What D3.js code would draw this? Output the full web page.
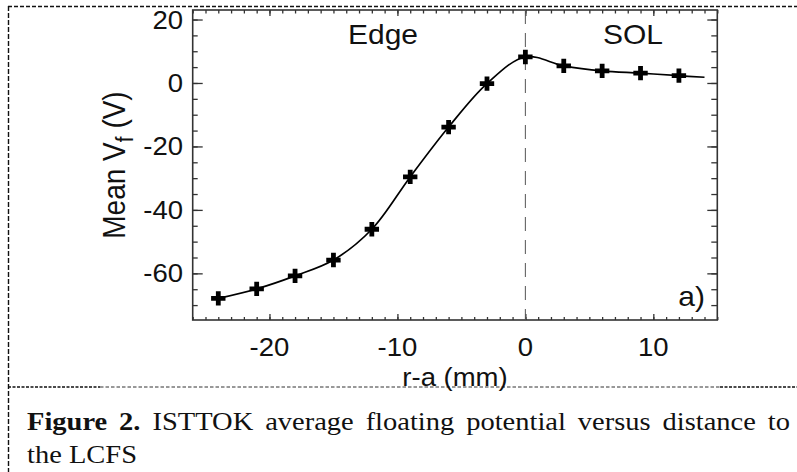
<!DOCTYPE html>
<html>
<head>
<meta charset="utf-8">
<script src="https://cdn.jsdelivr.net/npm/d3@7"></script>
<style>
  body { margin: 0; background: #fff; }
  svg { display: block; }
</style>
</head>
<body>
<svg id="chart" width="797" height="472"></svg>
<script>
// values
var rMinusA = [-24, -21, -18, -15, -12, -9, -6, -3, 0, 3, 6, 9, 12];
var meanVf = [-67.9, -64.9, -60.8, -55.8, -46.1, -29.6, -13.9, -0.2, 8.2, 5.4, 3.8, 3.1, 2.3];
// fitted curve runs a bit past the last probe point
var fitEndX = [14];
var fitEndY = [1.8];

var xTicks = [-20, -10, 0, 10];
var yTicks = [20, 0, -20, -40, -60];
var regionLabels = ['Edge', 'SOL'];
var captionBold = 'Figure 2.';
var captionLine1 = ' ISTTOK average floating potential versus distance to';
var captionLine2 = 'the LCFS';

var SANS = '"Liberation Sans", Arial, sans-serif';
var SERIF = '"Liberation Serif", "Times New Roman", serif';
var SX = 1.1; // the source image is a bit wider than tall

var svg = d3.select('#chart');
svg.append('rect').attr('width', 797).attr('height', 472).attr('fill', '#fff');

var plotL = 192.7, plotR = 717.3, plotT = 10, plotB = 320;
var x = d3.scaleLinear().domain([-26, 15]).range([plotL, plotR]);
var y = d3.scaleLinear().domain([-74.7, 23]).range([plotB, plotT]);

function stext(g, px, py, str, size, anchor, sx, family) {
  return g.append('text')
    .attr('transform', 'translate(' + px + ',' + py + ') scale(' + sx + ',1)')
    .attr('text-anchor', anchor)
    .style('font-family', family || SANS)
    .style('font-size', size + 'px')
    .attr('fill', '#111')
    .text(str);
}

// page frame, dashed
var frame = svg.append('g').attr('fill', 'none').attr('stroke', '#111');
frame.append('line').attr('x1', 8).attr('x2', 797).attr('y1', 6.5).attr('y2', 6.5)
  .attr('stroke-width', 1.4).attr('stroke-dasharray', '4,2');
frame.append('line').attr('x1', 8.5).attr('x2', 8.5).attr('y1', 6).attr('y2', 472)
  .attr('stroke-width', 1.4).attr('stroke-dasharray', '5,2');
frame.append('line').attr('x1', 8).attr('x2', 100).attr('y1', 387).attr('y2', 387)
  .attr('stroke-width', 1.4).attr('stroke-dasharray', '3,1.5');
frame.append('line').attr('x1', 100).attr('x2', 720).attr('y1', 387).attr('y2', 387)
  .attr('stroke-width', 1).attr('stroke', '#333').attr('stroke-dasharray', '3.5,2');
frame.append('line').attr('x1', 720).attr('x2', 797).attr('y1', 387).attr('y2', 387)
  .attr('stroke-width', 1.4).attr('stroke-dasharray', '3,1.5');

// axes: ticks point inward on all four sides
var axisColor = '#333';
function tickAxis(axis, tr) {
  var g = svg.append('g').attr('transform', tr).call(axis);
  g.select('.domain').remove();
  g.selectAll('line').attr('stroke', axisColor).attr('stroke-width', 1.3);
  g.selectAll('text').remove();
  return g;
}
var xMinor = d3.range(-26, 16, 1);
var yMinor = d3.range(-70, 21, 5);
tickAxis(d3.axisBottom(x).tickValues(xMinor).tickSize(-3), 'translate(0,' + plotB + ')');
tickAxis(d3.axisBottom(x).tickValues(xTicks).tickSize(-6), 'translate(0,' + plotB + ')');
tickAxis(d3.axisTop(x).tickValues(xMinor).tickSize(-3.5), 'translate(0,' + plotT + ')');
tickAxis(d3.axisTop(x).tickValues(xTicks).tickSize(-6), 'translate(0,' + plotT + ')');
tickAxis(d3.axisLeft(y).tickValues(yMinor).tickSize(-5), 'translate(' + plotL + ',0)');
tickAxis(d3.axisLeft(y).tickValues(yTicks).tickSize(-10), 'translate(' + plotL + ',0)');
tickAxis(d3.axisRight(y).tickValues(yMinor).tickSize(-6), 'translate(' + plotR + ',0)');
tickAxis(d3.axisRight(y).tickValues(yTicks).tickSize(-10), 'translate(' + plotR + ',0)');

svg.append('rect')
  .attr('x', plotL).attr('y', plotT).attr('width', plotR - plotL).attr('height', plotB - plotT)
  .attr('fill', 'none').attr('stroke', axisColor).attr('stroke-width', 1.6);

// tick labels
xTicks.forEach(function (t) {
  stext(svg, x(t), 356, String(t), 25, 'middle', SX);
});
yTicks.forEach(function (t) {
  stext(svg, 183, y(t) + 9, String(t), 25, 'end', SX);
});

// axis titles
stext(svg, (plotL + plotR) / 2, 386, 'r-a (mm)', 25, 'middle', SX);
var yl = svg.append('text')
  .attr('transform', 'translate(125,' + ((plotT + plotB) / 2) + ') rotate(-90) scale(1,1.14)')
  .attr('text-anchor', 'middle')
  .style('font-family', SANS).style('font-size', '28px').attr('fill', '#111');
yl.append('tspan').text('Mean V');
yl.append('tspan').attr('dy', 7).style('font-size', '21px').text('f');
yl.append('tspan').attr('dy', -7).text(' (V)');

// LCFS position
svg.append('line')
  .attr('x1', x(0)).attr('x2', x(0)).attr('y1', plotT).attr('y2', plotB)
  .attr('stroke', '#555').attr('stroke-width', 1).attr('stroke-dasharray', '14,9');

// fitted curve
var fitX = rMinusA.concat(fitEndX);
var fitY = meanVf.concat(fitEndY);
var line = d3.line()
  .x(function (d, i) { return x(fitX[i]); })
  .y(function (d, i) { return y(fitY[i]); })
  .curve(d3.curveCatmullRom.alpha(0.5));
svg.append('path').datum(fitX).attr('d', line)
  .attr('fill', 'none').attr('stroke', '#000').attr('stroke-width', 1.7);

// probe points
var cross = d3.symbol().type(d3.symbolCross).size(115);
svg.append('g').selectAll('path').data(rMinusA).join('path')
  .attr('transform', function (d, i) { return 'translate(' + x(d) + ',' + y(meanVf[i]) + ')'; })
  .attr('d', cross).attr('fill', '#000');

// region labels
stext(svg, 348, 43.5, regionLabels[0], 27, 'start', 1.11);
stext(svg, 603, 44, regionLabels[1], 27, 'start', 1.11);
stext(svg, 705, 306, 'a)', 27, 'end', 1.11);

// caption, first line justified
var CSX = 1.14;
var c1 = svg.append('text')
  .attr('transform', 'translate(27,430) scale(' + CSX + ',1)')
  .style('font-family', SERIF).style('font-size', '25px').attr('fill', '#111');
c1.append('tspan').style('font-weight', 'bold').text(captionBold);
c1.append('tspan').text(captionLine1);
var natural = c1.node().getComputedTextLength();
var spaces = (captionBold + captionLine1).split(' ').length - 1;
c1.style('word-spacing', ((790 - 27) / CSX - natural) / spaces + 'px');
stext(svg, 27, 463, captionLine2, 25, 'start', CSX, SERIF);
</script>
</body>
</html>
